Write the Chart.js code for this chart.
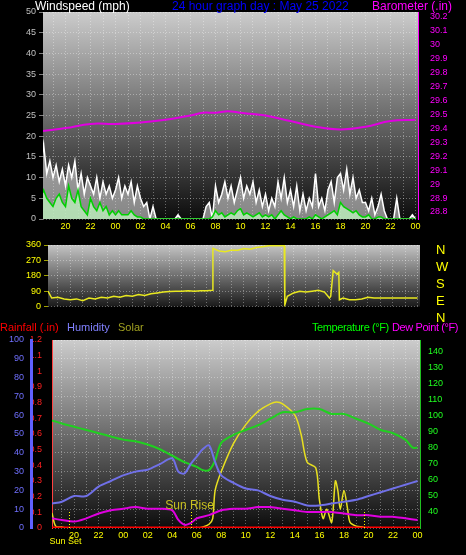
<!DOCTYPE html>
<html><head><meta charset="utf-8">
<script src="https://cdn.jsdelivr.net/npm/chart.js@4"></script>
<style>
html,body{margin:0;padding:0;background:#000;width:466px;height:555px;overflow:hidden;font-family:"Liberation Sans",Arial,sans-serif}
.box{position:absolute;left:0;width:466px}
.t{position:absolute;font-size:12px;white-space:nowrap;line-height:12px}
</style></head><body>
<div class="box" style="top:0;height:235px"><canvas id="c1"></canvas></div>
<div class="box" style="top:235px;height:80px"><canvas id="c2"></canvas></div>
<div class="box" style="top:315px;height:240px"><canvas id="c3"></canvas></div>
<div class="t" style="left:35px;top:0;color:#fff">Windspeed (mph)</div>
<div class="t" style="left:172px;top:0;color:#0000ff">24 hour graph day : May 25 2022</div>
<div class="t" style="left:372px;top:0;color:#ff00ff">Barometer (.in)</div>
<div class="t" style="left:436px;top:241px;color:#ffff00;font-size:13px;line-height:17px">N<br>W<br>S<br>E<br>N</div>
<div class="t" style="left:0;top:321px;color:#ff0000;font-size:11px">Rainfall (.in)</div>
<div class="t" style="left:67px;top:321px;color:#8080ff;font-size:11px">Humidity</div>
<div class="t" style="left:118px;top:321px;color:#a0a020;font-size:11px">Solar</div>
<div class="t" style="left:312px;top:321px;color:#00ff00;font-size:11px;letter-spacing:-0.4px">Temperature (°F)</div>
<div class="t" style="left:392px;top:321px;color:#ff00ff;font-size:11px;letter-spacing:-0.4px">Dew Point (°F)</div>
<script>
// ---- data (x in hours; 24 = midnight, 48 = next midnight) ----
const xMin = 18.2, xMax = 48.2;
const baroTimes = [18.2,20,22,24,26,28,30,31,32,33,34,35,36,38,40,42,44,46,48];
const baroValues = [29.38,29.40,29.43,29.43,29.44,29.46,29.49,29.51,29.51,29.52,29.51,29.50,29.49,29.45,29.41,29.39,29.41,29.45,29.46];
const windStart = 18, windStep = 0.25;
const gustValues = [12,18,11,14, 10,13,9,12, 8,13,10,14, 7,11,6,10, 8,6,10,5, 9,6,8,5, 7,10,5,8, 6,9,4,8, 5,3,4,0, 3,0,0,0, 0,0,0,0, 1,0,0,0, 0,0,0,0, 0,3,4,0,
 8,4,6,9, 5,8,4,7, 10,5,8,6, 9,4,7,3, 6,2,5,3, 9,5,10,4, 7,3,8,2, 6,2,5,3, 11,3,5,2, 7,9,4,10, 11,7,12,6, 10,5,7,4, 4,2,5,1, 3,6,2,0, 0,0,5,0, 0,0,0,1, 0];
const windValues = [5,7,5,4, 3,5,6,4, 3,8,5,4, 7,3,2,1, 5,3,2,4, 2,3,1,2, 1,2,1,1, 1,2,1,0.5, 0.5,0,0,0, 0,0,0,0, 0,0,0,0, 0,0,0,0, 0,0,0,0, 0,0,0,0.5,
 2,1,1.5,0.5, 1,1.5,1,2, 2.5,1,1.5,1, 0.5,1,1.5,0.5, 1,0.5,1,0, 1,2,1,0.5, 0,0.5,0,0, 0,0,0.5,0, 1,0.5,0,0.5, 1,1.5,2,1, 4,3,2.5,2, 1.5,2,1,0.5, 0.5,1,0,0, 0.5,0.5,0,0, 0,0,0,0, 0,0,0,0, 0];
const dirTimes = [18.2,18.5,19,19.5,20,20.5,21,21.5,22,22.5,23,23.5,24,24.5,25,25.5,26,26.5,27,27.5,28,28.5,29,29.5,30,30.5,31,31.45,31.5,32,32.5,33,33.5,34,34.5,35,35.5,36,36.5,37,37.25,37.3,37.5,38,38.5,39,39.5,40,40.5,40.9,41,41.2,41.5,41.65,41.7,42,42.5,43,43.5,44,44.5,46,48];
const dirValues = [90,50,55,45,40,45,35,50,45,55,50,60,55,65,60,70,65,75,80,85,88,90,90,92,90,92,92,95,340,325,320,330,330,340,335,345,350,355,355,355,355,10,60,80,90,85,90,95,85,50,60,210,190,200,40,50,40,40,45,55,50,50,50];
const tempTimes = [18.2,19,20,21,22,23,24,25,26,27,28,29,30,30.5,31,31.5,32,33,34,35,36,37,38,39,40,41,42,43,44,45,46,47,47.6,48];
const tempValues = [97,95,93,91,89,87,85,84,82,79,75,71,68,66,66,72,83,88,91,94,98,102,102,104,104,101,101,98,95,91,89,85,80,80];
const humTimes = [18.2,19,20,21,22,23,24,25,26,27,28,28.5,29,29.5,30,30.5,31,31.5,32,33,34,35,36,37,38,39,40,41,42,43,44,45,46,47,48];
const humValues = [13,14,17,17,22,25,28,30,31,34,37,30,29,34,38,42,44,35,28,24,21,20,17,15,14,12,12,13,14,15,17,19,21,23,25];
const dewTimes = [18.2,19,20,21,22,23,24,25,26,27,28,28.5,29,29.5,30,31,32,33,34,35,36,37,38,39,40,41,42,43,44,45,46,47,48];
const dewValues = [36,35,34,36,39,41,42,43,42,42,41,35,32,33,36,38,41,42,42,43,43,42,41,40,40,40,39,38,38,37,37,36,35];
const solarTimes = [18.2,18.5,19,19.5,24,30,30.5,31,31.3,31.5,32,33,34,35,36,36.5,37,38,38.5,39,39.7,40,40.3,40.6,41,41.3,41.5,41.7,42,42.3,42.5,43,43.5,44,48];
const solarValues = [8,1,0.5,0,0,0,0.5,2,5,20,30,45,55,62,66,67,66,60,50,35,32,15,5,10,3,25,20,10,20,10,3,1,0.5,0,0];
const rainTimes = [18.2,48.2];
const rainValues = [0,0];
const sunEvents = [{t:19.55,label:'Sun Set'},{t:29.5,label:'Sun Rise'},{t:43.6,label:''}];
const hourTicks = [];
for (let h=19; h<=48; h++) hourTicks.push(h);

const pts = (xs, ys) => ys.map((y,i)=>({x:xs[i], y}));
const stepPts = (s, d, ys) => ys.map((y,i)=>({x:s+d*i, y}));

Chart.defaults.animation = false;
Chart.defaults.font.family = '"Liberation Sans", Arial, sans-serif';
Chart.defaults.font.size = 9;

const bgPlugin = (top, bottom) => ({
  id:'bg',
  beforeDraw(c){
    const a=c.chartArea, ctx=c.ctx;
    const g=ctx.createLinearGradient(0,a.top,0,a.bottom);
    g.addColorStop(0,top); g.addColorStop(1,bottom);
    ctx.save(); ctx.fillStyle=g; ctx.fillRect(a.left,a.top,a.right-a.left,a.bottom-a.top); ctx.restore();
  }
});
const fitW = w => s => { s.width = w; };
const fitH = h => s => { s.height = h; };
const grid = {color:'rgba(255,255,255,0.35)', lineWidth:1};
const dash = {display:false, dash:[1,2]};
const hrLabel = v => (Number.isInteger(v) && v%2===0) ? String(v%24).padStart(2,'0') : '';
const xAxis = (h, show) => ({
  type:'linear', min:xMin, max:xMax,
  afterBuildTicks: s => { s.ticks = hourTicks.map(v=>({value:v})); },
  ticks:{display:show, color:'#ffff00', autoSkip:false, maxRotation:0, callback: hrLabel, padding:2},
  grid:{...grid, drawTicks:false}, border:dash, afterFit: fitH(h)
});

// ---- chart 1: wind + barometer ----
new Chart(document.getElementById('c1'), {
  type:'line',
  data:{datasets:[
    {data:pts(baroTimes,baroValues), yAxisID:'yb', borderColor:'#e000e0', borderWidth:2, pointRadius:0, tension:0.4},
    {data:stepPts(windStart,windStep,windValues), yAxisID:'y', borderColor:'#00d000', borderWidth:1.5, pointRadius:0, fill:'origin', backgroundColor:'rgba(190,240,190,0.8)'},
    {data:stepPts(windStart,windStep,gustValues), yAxisID:'y', borderColor:'#ffffff', borderWidth:1.5, pointRadius:0, fill:'origin', backgroundColor:'rgba(235,235,235,0.55)'}
  ]},
  plugins:[bgPlugin('#cccccc','#0c0c0c')],
  options:{responsive:true, maintainAspectRatio:false,
    layout:{padding:{top:12,left:0,right:0,bottom:0}},
    plugins:{legend:{display:false}, tooltip:{enabled:false}},
    scales:{
      x: xAxis(16, true),
      y:{position:'left', min:0, max:50, ticks:{stepSize:5, color:'#c0c0c0', padding:3}, grid:{...grid, drawTicks:true, tickLength:4, tickColor:'#808080'}, border:dash, afterFit:fitW(43)},
      yb:{position:'right', min:28.75, max:30.23,
        afterBuildTicks: s => { const t=[]; for(let i=0;i<=14;i++) t.push({value:+(28.8+i*0.1).toFixed(1)}); s.ticks=t; },
        ticks:{color:'#ff00ff', padding:4, callback:v=>String(+v.toFixed(1))}, grid:{display:false}, border:{color:'#ff00ff'}, afterFit:fitW(48)}
    }}
});

// ---- chart 2: wind direction ----
new Chart(document.getElementById('c2'), {
  type:'line',
  data:{datasets:[
    {data:pts(dirTimes,dirValues), borderColor:'#e8e820', borderWidth:1.5, pointRadius:0}
  ]},
  plugins:[bgPlugin('#c4c4c4','#1a1a1a')],
  options:{responsive:true, maintainAspectRatio:false,
    layout:{padding:{top:10,bottom:0}},
    plugins:{legend:{display:false}, tooltip:{enabled:false}},
    scales:{
      x:{...xAxis(5,false)},
      y:{position:'left', min:0, max:360, ticks:{stepSize:90, color:'#ffff00', padding:3}, grid:{...grid, tickLength:4, tickColor:'#a0a000'}, border:dash, afterFit:fitW(48)},
      yr:{position:'right', display:true, min:0, max:360, ticks:{display:false}, grid:{display:false}, border:{display:false}, afterFit:fitW(46)}
    }}
});

// ---- chart 3: temp/hum/dew/solar/rain ----
const sunPlugin = {
  id:'sun',
  afterDatasetsDraw(c){
    const ctx=c.ctx, x=c.scales.x, a=c.chartArea;
    ctx.save();
    ctx.strokeStyle='#ffff00'; ctx.lineWidth=1; ctx.setLineDash([1,2]);
    sunEvents.forEach(e=>{
      const px=Math.round(x.getPixelForValue(e.t))+0.5;
      ctx.beginPath(); ctx.moveTo(px,a.bottom); ctx.lineTo(px,a.bottom-16); ctx.stroke();
    });
    ctx.setLineDash([]);
    ctx.fillStyle='#c8c020'; ctx.font='12px "Liberation Sans", Arial, sans-serif'; ctx.textAlign='center';
    const r=sunEvents[1]; ctx.fillText(r.label, x.getPixelForValue(r.t)-1, a.bottom-19);
    ctx.fillStyle='#ffff00'; ctx.font='9px "Liberation Sans", Arial, sans-serif';
    const s=sunEvents[0]; ctx.fillText(s.label, x.getPixelForValue(s.t)-3, a.bottom+16);
    ctx.restore();
  }
};
new Chart(document.getElementById('c3'), {
  type:'line',
  data:{datasets:[
    {data:pts(rainTimes,rainValues), yAxisID:'yr', borderColor:'#ff0000', borderWidth:3, pointRadius:0},
    {data:pts(dewTimes,dewValues), yAxisID:'yt', borderColor:'#e000e0', borderWidth:2, pointRadius:0, tension:0.3},
    {data:pts(humTimes,humValues), yAxisID:'yh', borderColor:'#7070e8', borderWidth:2, pointRadius:0, tension:0.3},
    {data:pts(tempTimes,tempValues), yAxisID:'yt', borderColor:'#20d020', borderWidth:2, pointRadius:0, tension:0.3},
    {data:pts(solarTimes,solarValues), yAxisID:'yh', borderColor:'#e8e020', borderWidth:1.5, pointRadius:0, tension:0.3}
  ]},
  plugins:[bgPlugin('#cccccc','#0c0c0c'), sunPlugin],
  options:{responsive:true, maintainAspectRatio:false,
    layout:{padding:{top:25}},
    plugins:{legend:{display:false}, tooltip:{enabled:false}},
    scales:{
      x: xAxis(27, true),
      yr:{position:'left', min:0, max:1.2, ticks:{stepSize:0.1, color:'#ff2020', padding:2, callback:v=>String(+v.toFixed(1))}, grid:{display:false}, border:{color:'#ff4040', dash:[2,2]}, afterFit:fitW(21)},
      yh:{position:'left', min:0, max:100, ticks:{stepSize:10, color:'#7070ff', padding:3}, grid:{display:false, tickLength:4, tickColor:'#7070ff', drawTicks:true}, border:{color:'#6060ff', width:3}, afterFit:fitW(31)},
      yt:{position:'right', min:30, max:147,
        afterBuildTicks: s => { const t=[]; for(let v=40;v<=140;v+=10) t.push({value:v}); s.ticks=t; },
        ticks:{color:'#20ff20', padding:4}, grid:{display:false, tickLength:4, tickColor:'#20ff20', drawTicks:true}, border:{color:'#20c020'}, afterFit:fitW(46)},
      yg:{position:'right', display:true, min:0, max:20, ticks:{display:false}, grid:{...grid, drawTicks:false}, border:{display:false, dash:[1,2]}, afterFit:fitW(0)}
    }}
});
</script>
</body></html>
